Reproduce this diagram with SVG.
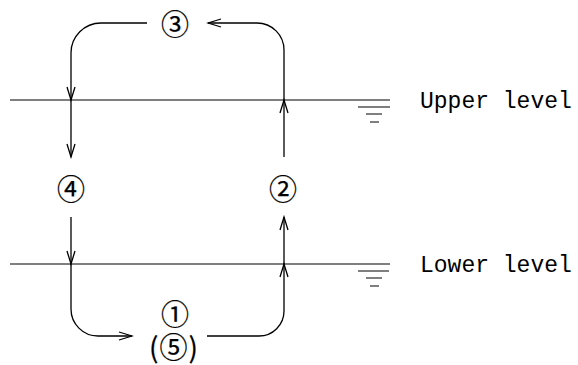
<svg xmlns="http://www.w3.org/2000/svg" width="578" height="365" viewBox="0 0 578 365">
<style>
.ln{fill:none;stroke:#000;stroke-width:1.3}
.wl{fill:none;stroke:#000;stroke-width:1.2}
.num{font-family:"Noto Sans CJK JP","DejaVu Sans",sans-serif;font-size:28px;text-anchor:middle;fill:#000;stroke:#000;stroke-width:0.25}
.lbl{font-family:"Liberation Mono",monospace;font-size:23px;fill:#000}
</style>
<defs>
<marker id="arr" markerUnits="userSpaceOnUse" markerWidth="16" markerHeight="12" viewBox="-1 -6 16 12" refX="13" refY="0" orient="auto">
<path d="M0,-4 L13,0 L0,4" fill="none" stroke="#000" stroke-width="1.3"/>
</marker>
</defs>
<g id="levels">
<path class="wl" d="M10,100 H390 M358,107 H390 M366,114 H382 M370,122 H379"/>
<path class="wl" d="M10,264 H390 M358,271 H389 M366,278 H382 M370,286 H379"/>
<text id="upper" class="lbl" x="420" y="108">Upper level</text>
<text id="lower" class="lbl" x="420" y="272">Lower level</text>
</g>
<g id="connectors">
<path class="ln" d="M147,23 H101 A30,30 0 0 0 71,53 V100" marker-end="url(#arr)"/>
<path class="ln" d="M71,100 V157" marker-end="url(#arr)"/>
<path class="ln" d="M284,157 V100" marker-end="url(#arr)"/>
<path class="ln" d="M284,100 V50 A27,27 0 0 0 257,23 H208" marker-end="url(#arr)"/>
<path class="ln" d="M71,217 V264" marker-end="url(#arr)"/>
<path class="ln" d="M71,264 V309 A27,27 0 0 0 98,336 H132" marker-end="url(#arr)"/>
<path class="ln" d="M207,336 H259 A25,25 0 0 0 284,311 V264" marker-end="url(#arr)"/>
<path class="ln" d="M284,264 V217" marker-end="url(#arr)"/>
</g>
<g id="n3"><text class="num" x="175" y="35">③</text></g>
<g id="n4"><text class="num" x="71" y="200">④</text></g>
<g id="n2"><text class="num" x="283" y="200">②</text></g>
<g id="n1"><text class="num" x="175" y="325" font-size="25">①</text></g>
<g id="n5"><text class="num" x="174" y="358" font-size="22" letter-spacing="1">(⑤)</text></g>
</svg>
